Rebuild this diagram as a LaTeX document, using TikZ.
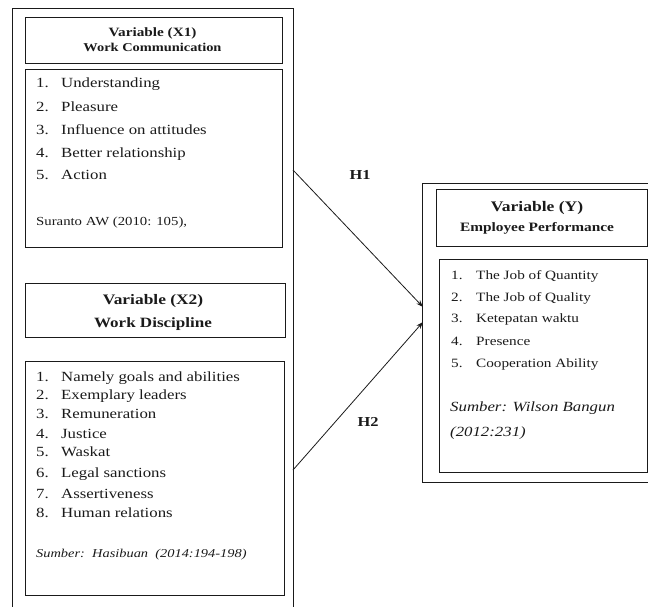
\documentclass[tikz,border=0pt]{standalone}
\usepackage{fontspec}
\setmainfont{Liberation Serif}[FakeStretch=1.2]
\usetikzlibrary{arrows.meta}
\definecolor{ink}{HTML}{1A1A1A}
\begin{document}
\begin{tikzpicture}[x=1pt,y=-1pt,
  box/.style={draw=ink, line width=0.8pt, inner sep=0pt, anchor=north west},
  txt/.style={inner sep=0pt, text height=0.68em, text depth=0.2em, text=ink, yshift=-1.8pt},
  ttl/.style={txt, font=\bfseries},
  itm/.style={txt, anchor=west},
  conn/.style={draw=ink, line width=0.8pt, -{Stealth[length=7pt,width=5pt]}}]
\useasboundingbox (0,0) rectangle (648,606);
% outer boxes
\node[box, minimum width=281pt, minimum height=640pt] (L) at (12,8) {};
\node[box, minimum width=250pt, minimum height=299pt] (Y) at (422,183) {};
% X1
\node[box, minimum width=257pt, minimum height=46pt] (x1t) at (25,17) {};
\node[ttl, font=\bfseries\fontsize{12.7}{14}\selectfont] (x1ta) at (152.5,32) {Variable (X1)};
\node[ttl, font=\bfseries\fontsize{12}{14}\selectfont] (x1tb) at (152.5,47) {Work Communication};
\node[box, minimum width=257pt, minimum height=178pt] (x1l) at (25,69) {};
\foreach \t/\yy [count=\i] in {Understanding/83, Pleasure/107, Influence on attitudes/130, Better relationship/153, Action/175}{
  \node[itm, font=\fontsize{14}{16}\selectfont] (x1n\i) at (36,\yy) {\i.};
  \node[itm, font=\fontsize{14}{16}\selectfont] (x1i\i) at (61,\yy) {\t};
}
\node[itm, font=\fontsize{12.3}{14}\selectfont] (x1s) at (36,221) {Suranto AW (2010: 105),};
% X2
\node[box, minimum width=260pt, minimum height=54pt] (x2t) at (25,283) {};
\node[ttl, font=\bfseries\fontsize{14.5}{16}\selectfont] (x2ta) at (153,300) {Variable (X2)};
\node[ttl, font=\bfseries\fontsize{14.2}{16}\selectfont] (x2tb) at (153,323) {Work Discipline};
\node[box, minimum width=259pt, minimum height=234pt] (x2l) at (25,361) {};
\foreach \t/\yy [count=\i] in {Namely goals and abilities/377, Exemplary leaders/395, Remuneration/414, Justice/434, Waskat/452, Legal sanctions/473, Assertiveness/494, Human relations/513}{
  \node[itm, font=\fontsize{14}{16}\selectfont] (x2n\i) at (36,\yy) {\i.};
  \node[itm, font=\fontsize{14}{16}\selectfont] (x2i\i) at (61,\yy) {\t};
}
\node[itm, font=\itshape\fontsize{12}{14}\selectfont] (x2s) at (36,553) {Sumber:\ \ Hasibuan\ \ (2014:194-198)};
% Y
\node[box, minimum width=211pt, minimum height=57pt] (yt) at (436,189) {};
\node[ttl, font=\bfseries\fontsize{14.6}{16}\selectfont] (yta) at (537,207) {Variable (Y)};
\node[ttl, font=\bfseries\fontsize{12.8}{14}\selectfont] (ytb) at (537,227) {Employee Performance};
\node[box, minimum width=208pt, minimum height=213pt] (yl) at (439,259) {};
\foreach \t/\yy [count=\i] in {The Job of Quantity/275, The Job of Quality/297, Ketepatan waktu/318, Presence/341, Cooperation Ability/363}{
  \node[itm, font=\fontsize{12.7}{14}\selectfont] (yn\i) at (451,\yy) {\i.};
  \node[itm, font=\fontsize{12.7}{14}\selectfont] (yi\i) at (476,\yy) {\t};
}
\node[itm, font=\itshape\fontsize{14}{16}\selectfont] (ys1) at (450,407) {Sumber: Wilson Bangun};
\node[itm, font=\itshape\fontsize{14}{16}\selectfont] (ys2) at (450,432) {(2012:231)};
% connectors
\coordinate (h1s) at (293,170);
\coordinate (h1e) at (423,307);
\coordinate (h2s) at (293,470);
\coordinate (h2e) at (423,322);
\draw[conn] (h1s) -- (h1e);
\draw[conn] (h2s) -- (h2e);
\node[ttl, font=\bfseries\fontsize{13.7}{16}\selectfont] (h1) at (360,175) {H1};
\node[ttl, font=\bfseries\fontsize{13.7}{16}\selectfont] (h2) at (368,422) {H2};
\end{tikzpicture}
\end{document}
